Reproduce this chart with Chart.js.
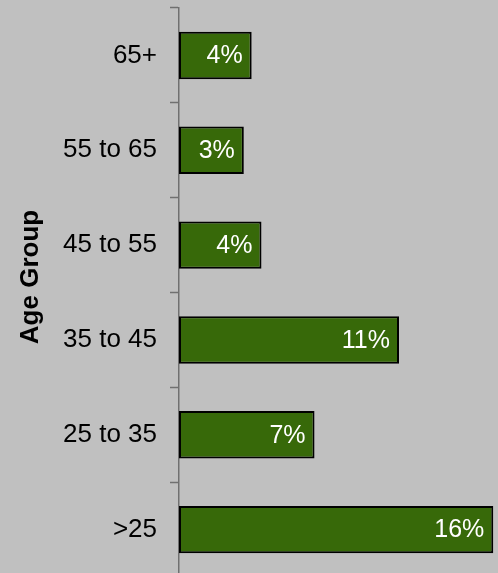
<!DOCTYPE html>
<html>
<head>
<meta charset="utf-8">
<script src="https://cdn.jsdelivr.net/npm/chart.js@4"></script>
<style>
  html, body { margin: 0; padding: 0; background: #C0C0C0; overflow: hidden; }
  #wrap { position: relative; width: 498px; height: 577px; }
</style>
</head>
<body>
<div id="wrap"><canvas id="c"></canvas></div>
<script>
const categories = ["65+", "55 to 65", "45 to 55", "35 to 45", "25 to 35", ">25"];
const shares = [3.7, 3.3, 4.2, 11.2, 6.9, 16.0];
const axisTitle = "Age Group";
const FONT = "'Liberation Sans', Arial, sans-serif";

const barLabels = {
  id: 'barLabels',
  afterDatasetsDraw(chart) {
    const ctx = chart.ctx;
    const meta = chart.getDatasetMeta(0);
    ctx.save();
    ctx.font = "25px " + FONT;
    ctx.fillStyle = "#FFFFFF";
    ctx.textAlign = "right";
    ctx.textBaseline = "middle";
    meta.data.forEach((bar, i) => {
      ctx.fillText(Math.round(shares[i]) + "%", bar.x - 9, bar.y + 1);
    });
    ctx.restore();
  }
};

const sideTitle = {
  id: 'sideTitle',
  afterDraw(chart) {
    const ctx = chart.ctx;
    ctx.save();
    ctx.font = "bold 26px " + FONT;
    ctx.fillStyle = "#000000";
    ctx.textAlign = "center";
    ctx.textBaseline = "middle";
    ctx.translate(31, 277);
    ctx.rotate(-Math.PI / 2);
    ctx.fillText(axisTitle, 0, 0);
    ctx.restore();
  }
};

new Chart(document.getElementById('c'), {
  type: 'bar',
  data: {
    labels: categories,
    datasets: [{
      data: shares,
      backgroundColor: '#376909',
      borderColor: '#000000',
      borderWidth: 2,
      borderSkipped: false,
      categoryPercentage: 1.0,
      barPercentage: 0.5
    }]
  },
  options: {
    indexAxis: 'y',
    responsive: true,
    maintainAspectRatio: false,
    animation: false,
    layout: { padding: { top: 8, bottom: 0, left: 0, right: 0 } },
    plugins: { legend: { display: false }, tooltip: { enabled: false } },
    scales: {
      x: { display: false, min: 0, max: 16.24 },
      y: {
        afterFit(scale) {
          scale.width = 179;
          scale.paddingTop = 0;
          scale.paddingBottom = 0;
        },
        grid: {
          offset: true,
          drawOnChartArea: false,
          drawTicks: true,
          tickLength: 9,
          tickColor: '#707070',
          tickWidth: 1.5
        },
        border: { display: true, color: '#707070', width: 1.5 },
        ticks: {
          color: '#000000',
          padding: 13,
          font: { family: FONT, size: 26 }
        }
      }
    }
  },
  plugins: [barLabels, sideTitle]
});
</script>
</body>
</html>
